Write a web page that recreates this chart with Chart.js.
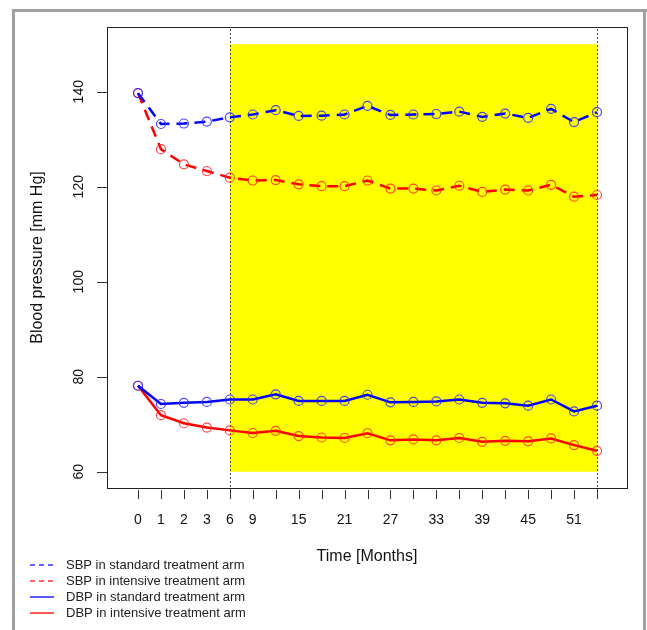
<!DOCTYPE html>
<html>
<head>
<meta charset="utf-8">
<script src="https://cdn.jsdelivr.net/npm/chart.js@4.4.0/dist/chart.umd.min.js"></script>
<style>
html,body{margin:0;padding:0;background:#fff;}
canvas{display:block;}
</style>
</head>
<body>
<canvas id="c" width="647" height="630"></canvas>
<script>
const months = [0,1,2,3,6,9,12,15,18,21,24,27,30,33,36,39,42,45,48,51,54];
const xTickLabels = ['0','1','2','3','6','9','','15','','21','','27','','33','','39','','45','','51',''];
const yTicks = [60,80,100,120,140];
const sbpStandard = [139.7,133.2,133.3,133.7,134.6,135.2,136.1,134.9,134.95,135.2,137.0,135.1,135.2,135.3,135.8,134.7,135.4,134.5,136.4,133.6,135.7];
const sbpIntensive = [139.7,127.9,124.7,123.3,121.9,121.3,121.4,120.5,120.1,120.1,121.3,119.6,119.6,119.2,120.2,118.9,119.4,119.2,120.4,117.9,118.25];
const dbpStandard = [78.1,74.25,74.5,74.7,75.2,75.2,76.3,74.9,74.9,74.9,76.2,74.6,74.7,74.8,75.2,74.5,74.4,73.9,75.2,72.7,73.9];
const dbpIntensive = [78.1,71.9,70.2,69.3,68.7,68.15,68.6,67.5,67.2,67.1,68.1,66.6,66.8,66.6,67.1,66.3,66.5,66.4,67.0,65.6,64.4];
const shadeFromIndex = 4, shadeToIndex = 20, shadeLow = 60, shadeHigh = 150;
const legendLabels = ['SBP in standard treatment arm','SBP in intensive treatment arm','DBP in standard treatment arm','DBP in intensive treatment arm'];

const BLUE = '#0000ff', RED = '#ff0000';
const FONT = '"Liberation Sans", Arial, Helvetica, sans-serif';
const toPts = arr => arr.map((v,i)=>({x:i,y:v}));

function ds(label, data, color, dashed){
  return {
    label, data: toPts(data),
    borderColor: color, borderWidth: 2.5,
    borderDash: dashed ? [11,7] : [],
    pointRadius: 4.5, pointBorderWidth: 1.2,
    pointBorderColor: color === BLUE ? 'rgba(40,40,255,0.85)' : 'rgba(255,40,40,0.85)',
    pointBackgroundColor: 'rgba(0,0,0,0)',
    pointHoverRadius: 4.5, tension: 0, fill: false
  };
}

const deco = {
  id: 'deco',
  beforeDraw(chart){
    const ctx = chart.ctx;
    ctx.save(); ctx.fillStyle = '#fff'; ctx.fillRect(0,0,chart.width,chart.height); ctx.restore();
  },
  beforeDatasetsDraw(chart){
    const ctx = chart.ctx, xs = chart.scales.x, ys = chart.scales.y, a = chart.chartArea;
    ctx.save();
    ctx.fillStyle = '#ffff00';
    const x0 = xs.getPixelForValue(shadeFromIndex), x1 = xs.getPixelForValue(shadeToIndex);
    const y0 = ys.getPixelForValue(shadeHigh), y1 = ys.getPixelForValue(shadeLow);
    ctx.fillRect(x0, y0, x1-x0, y1-y0);
    ctx.strokeStyle = '#444'; ctx.lineWidth = 1; ctx.setLineDash([2,2]);
    [shadeFromIndex, shadeToIndex].forEach(i=>{
      const x = Math.round(xs.getPixelForValue(i)) + 0.5;
      ctx.beginPath(); ctx.moveTo(x, a.top+2); ctx.lineTo(x, a.bottom+10); ctx.stroke();
    });
    ctx.restore();
  },
  afterDatasetsDraw(chart){
    const ctx = chart.ctx, xs = chart.scales.x, ys = chart.scales.y, a = chart.chartArea;
    ctx.save();
    // box
    ctx.strokeStyle = '#222'; ctx.lineWidth = 1;
    ctx.strokeRect(Math.round(a.left)+0.5, Math.round(a.top)+0.5, Math.round(a.right-a.left), Math.round(a.bottom-a.top));
    // x ticks
    ctx.strokeStyle = '#333';
    ctx.fillStyle = '#111'; ctx.font = '14px ' + FONT; ctx.textAlign = 'center'; ctx.textBaseline = 'middle';
    months.forEach((m,i)=>{
      const x = Math.round(xs.getPixelForValue(i)) + 0.5;
      ctx.beginPath(); ctx.moveTo(x, a.bottom+2); ctx.lineTo(x, a.bottom+11); ctx.stroke();
      if (xTickLabels[i]) ctx.fillText(xTickLabels[i], xs.getPixelForValue(i), a.bottom+32);
    });
    // y ticks
    yTicks.forEach(v=>{
      const y = Math.round(ys.getPixelForValue(v)) + 0.5;
      ctx.beginPath(); ctx.moveTo(a.left-10, y); ctx.lineTo(a.left, y); ctx.stroke();
      ctx.save(); ctx.translate(a.left-28, ys.getPixelForValue(v)); ctx.rotate(-Math.PI/2);
      ctx.fillText(String(v), 0, 0); ctx.restore();
    });
    // titles
    ctx.font = '16px ' + FONT;
    ctx.fillText('Time [Months]', (a.left+a.right)/2, 557);
    ctx.save(); ctx.translate(38, (a.top+a.bottom)/2); ctx.rotate(-Math.PI/2);
    ctx.fillText('Blood pressure [mm Hg]', 0, 0); ctx.restore();
    // legend
    const lcol = ['#3030ff', '#ff3030', '#3030ff', '#ff3030'], ldash = [true, true, false, false];
    ctx.font = '13px ' + FONT; ctx.textAlign = 'left'; ctx.fillStyle = '#222';
    legendLabels.forEach((t,k)=>{
      const y = 565 + k*16;
      ctx.strokeStyle = lcol[k]; ctx.lineWidth = 1.6;
      ctx.setLineDash(ldash[k] ? [5,4] : []);
      ctx.beginPath(); ctx.moveTo(30, y); ctx.lineTo(54, y); ctx.stroke();
      ctx.setLineDash([]);
      ctx.fillText(t, 66, y);
    });
    // clip bottom
    ctx.fillStyle = '#fff'; ctx.fillRect(15, 617, 628, 20);
    // frame
    ctx.fillStyle = '#a0a0a0';
    ctx.fillRect(12, 9, 635, 3);
    ctx.fillRect(12, 9, 3, 630);
    ctx.fillRect(643, 9, 3, 630);
    ctx.restore();
  }
};

new Chart(document.getElementById('c'), {
  type: 'line',
  data: { datasets: [
    ds(legendLabels[0], sbpStandard, BLUE, true),
    ds(legendLabels[1], sbpIntensive, RED, true),
    ds(legendLabels[2], dbpStandard, BLUE, false),
    ds(legendLabels[3], dbpIntensive, RED, false)
  ]},
  options: {
    responsive: false, animation: false, devicePixelRatio: 1,
    layout: { padding: { left: 107, top: 27, right: 20, bottom: 142 } },
    plugins: { legend: { display: false }, tooltip: { enabled: false } },
    scales: {
      x: { type: 'linear', min: -1.351, max: 21.307, display: false },
      y: { type: 'linear', min: 56.57, max: 153.62, display: false }
    },
    elements: { line: { borderCapStyle: 'butt' } }
  },
  plugins: [deco]
});
</script>
</body>
</html>
